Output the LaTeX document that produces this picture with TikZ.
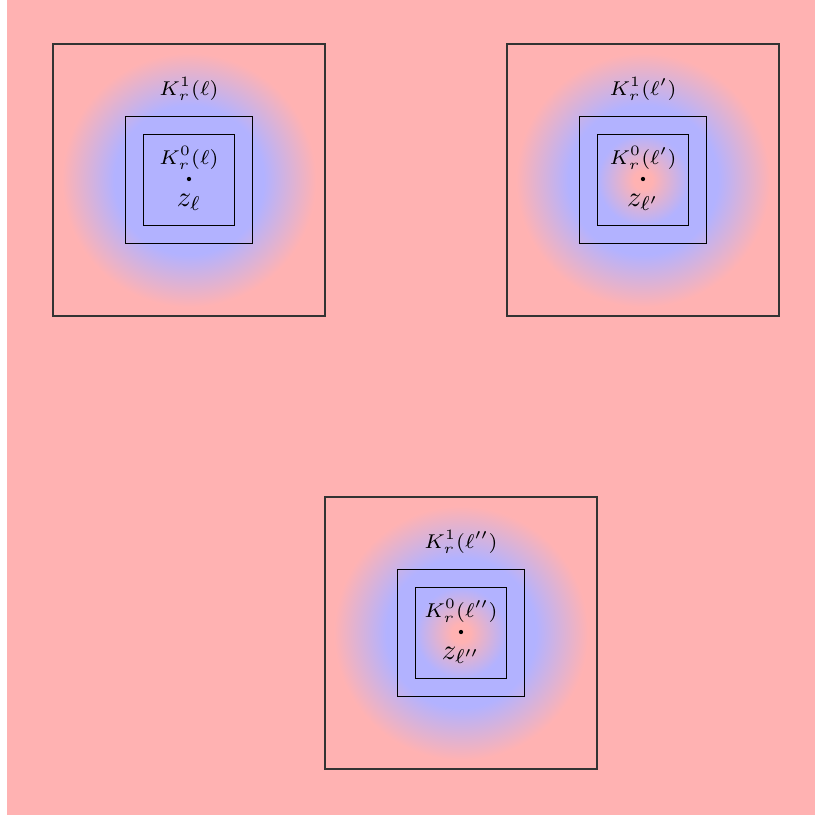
\documentclass[tikz,border=0pt]{standalone}
\colorlet{pinkbg}{red!30}
\colorlet{bluecore}{blue!30}
\pgfdeclareradialshading{solidcore}{\pgfpoint{0bp}{0bp}}{color(0bp)=(bluecore); color(14.4bp)=(bluecore); color(24.4bp)=(pinkbg); color(50bp)=(pinkbg)}
\pgfdeclareradialshading{ringcore}{\pgfpoint{0bp}{0bp}}{color(0bp)=(pinkbg); color(1.8bp)=(pinkbg); color(8.7bp)=(bluecore); color(14.4bp)=(bluecore); color(24.4bp)=(pinkbg); color(50bp)=(pinkbg)}
\begin{document}
\begin{tikzpicture}[x=0.35pt,y=0.35pt,
  bigbox/.style={draw=black!80, line width=0.4pt, minimum size=95.2pt, inner sep=0pt},
  midbox/.style={draw, line width=0.4pt, minimum size=44.45pt, inner sep=0pt},
  smallbox/.style={draw, line width=0.4pt, minimum size=31.85pt, inner sep=0pt},
  klabel/.style={font=\scriptsize, inner sep=0pt},
  zlabel/.style={inner sep=0pt},
  dotnode/.style={circle, fill=black, inner sep=0pt, minimum size=1.5pt}]
\useasboundingbox (0,0) rectangle (815,815);
\fill[pinkbg] (7,0) rectangle (815,815);
% shadings
\shade[shading=solidcore] (189,635) circle (130);
\shade[shading=ringcore] (643,635) circle (130);
\shade[shading=ringcore] (461,182) circle (130);
% box 1
\node[bigbox] (b1) at (189,635) {};
\node[midbox] (m1) at (189,635) {};
\node[smallbox] (s1) at (189,635) {};
\node[klabel] (ka1) at (189,726) {$K_r^1(\ell)$};
\node[klabel] (kb1) at (189,657) {$K_r^0(\ell)$};
\node[dotnode] (d1) at (189,636) {};
\node[zlabel] (z1) at (189,613) {$z_\ell$};
% box 2
\node[bigbox] (b2) at (643,635) {};
\node[midbox] (m2) at (643,635) {};
\node[smallbox] (s2) at (643,635) {};
\node[klabel] (ka2) at (643,726) {$K_r^1(\ell')$};
\node[klabel] (kb2) at (643,657) {$K_r^0(\ell')$};
\node[dotnode] (d2) at (643,636) {};
\node[zlabel] (z2) at (643,613) {$z_{\ell'}$};
% box 3
\node[bigbox] (b3) at (461,182) {};
\node[midbox] (m3) at (461,182) {};
\node[smallbox] (s3) at (461,182) {};
\node[klabel] (ka3) at (461,273) {$K_r^1(\ell'')$};
\node[klabel] (kb3) at (461,204) {$K_r^0(\ell'')$};
\node[dotnode] (d3) at (461,183) {};
\node[zlabel] (z3) at (461,160) {$z_{\ell''}$};
\end{tikzpicture}
\end{document}
